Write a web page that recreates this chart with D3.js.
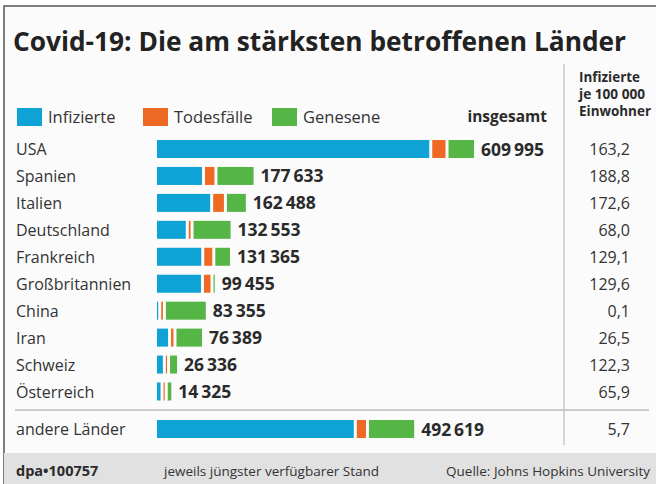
<!DOCTYPE html>
<html>
<head>
<meta charset="utf-8">
<script src="https://cdn.jsdelivr.net/npm/d3@7"></script>
<style>
  body { margin: 0; background: #fff; }
  text { font-family: "Open Sans", "Noto Sans", sans-serif; fill: #2b2b2b; }
</style>
</head>
<body>
<div id="chart"></div>
<script>
// Covid-19: the most affected countries (stacked bars + per-capita column)
const countries = ["USA", "Spanien", "Italien", "Deutschland", "Frankreich",
    "Großbritannien", "China", "Iran", "Schweiz", "Österreich"];
const infected  = [534000, 88201, 104291, 56458, 86812, 86193, 1809, 21679, 11500, 6954];
const deaths    = [26000, 18579, 21067, 3495, 15748, 12894, 3346, 4777, 1100, 384];
const recovered = [49995, 70853, 37130, 72600, 28805, 368, 78200, 49933, 13736, 6987];
const totals    = [609995, 177633, 162488, 132553, 131365, 99455, 83355, 76389, 26336, 14325];
const per100k   = [163.2, 188.8, 172.6, 68.0, 129.1, 129.6, 0.1, 26.5, 122.3, 65.9];

const otherLabel = "andere Länder";
const otherInfected = 386019, otherDeaths = 18000, otherRecovered = 88600;
const otherTotal = 492619, otherPer100k = 5.7;

const seriesNames = ["Infizierte", "Todesfälle", "Genesene"];
const seriesColors = ["#0ea2d5", "#ee6a24", "#55b545"];

(function () {
    const width = 656, height = 484;

    const svg = d3.select('#chart')
        .append('svg')
        .attr('width', width)
        .attr('height', height);

    // frame
    svg.append('rect')
        .attr('x', 4).attr('y', 6)
        .attr('width', width - 4).attr('height', height - 6)
        .attr('fill', '#fbfbfb');
    svg.append('path')
        .attr('d', `M4,${height} V6 H${width}`)
        .attr('fill', 'none')
        .attr('stroke', '#555')
        .attr('stroke-width', 1.5);

    // title
    svg.append('text')
        .attr('x', 13).attr('y', 51)
        .attr('font-size', 26)
        .attr('font-weight', 700)
        .attr('textLength', 613)
        .attr('lengthAdjust', 'spacingAndGlyphs')
        .style('fill', '#222')
        .text('Covid-19: Die am stärksten betroffenen Länder');

    // legend
    const legendX = [17, 143, 272];
    const legend = svg.append('g');
    seriesNames.forEach((name, i) => {
        legend.append('rect')
            .attr('x', legendX[i]).attr('y', 108)
            .attr('width', 25).attr('height', 18)
            .attr('fill', seriesColors[i]);
        legend.append('text')
            .attr('x', legendX[i] + 31).attr('y', 123)
            .attr('font-size', 16.5)
            .style('fill', '#333')
            .text(name);
    });
    svg.append('text')
        .attr('x', 547).attr('y', 122)
        .attr('text-anchor', 'end')
        .attr('font-size', 15.5)
        .attr('font-weight', 700)
        .text('insgesamt');

    // right column header (condensed look via textLength)
    const head = ['Infizierte', 'je 100 000', 'Einwohner'];
    const headLen = [61, 66, 72];
    svg.append('g').selectAll('text')
        .data(head)
        .join('text')
        .attr('x', 579)
        .attr('y', (d, i) => 82 + i * 17)
        .attr('font-size', 13.5)
        .attr('font-weight', 700)
        .attr('textLength', (d, i) => headLen[i])
        .attr('lengthAdjust', 'spacingAndGlyphs')
        .text(d => d);

    // dividers
    svg.append('line')
        .attr('x1', 564).attr('x2', 564)
        .attr('y1', 64).attr('y2', 445)
        .attr('stroke', '#bdbdbd').attr('stroke-width', 1.2);
    svg.append('line')
        .attr('x1', 15).attr('x2', 649)
        .attr('y1', 410).attr('y2', 410)
        .attr('stroke', '#bdbdbd').attr('stroke-width', 1.5);

    // scales
    const x0 = 157, gap = 3, barH = 18;
    const x = d3.scaleLinear().domain([0, totals[0]]).range([0, 311]);
    const y = d3.scalePoint().domain(countries).range([149, 391.5]);

    const rows = countries.map((c, i) => ({
        name: c, cy: y(c),
        parts: [infected[i], deaths[i], recovered[i]],
        total: totals[i], rate: per100k[i]
    }));
    rows.push({
        name: otherLabel, cy: 429,
        parts: [otherInfected, otherDeaths, otherRecovered],
        total: otherTotal, rate: otherPer100k
    });

    const fmtTotal = v => d3.format(',')(v).replace(/,/g, '\u2006');
    const fmtRate = v => v.toFixed(1).replace('.', ',');

    const row = svg.append('g').selectAll('g')
        .data(rows)
        .join('g');

    row.append('text')
        .attr('x', 16).attr('y', d => d.cy + 6)
        .attr('font-size', 16)
        .style('fill', '#333')
        .text(d => d.name);

    row.each(function (d) {
        const g = d3.select(this);
        let pos = x0;
        d.parts.forEach((v, i) => {
            const w = Math.max(1.2, x(v));
            g.append('rect')
                .attr('x', pos).attr('y', d.cy - barH / 2)
                .attr('width', w).attr('height', barH)
                .attr('fill', seriesColors[i]);
            pos += w + (i < 2 ? gap : 0);
        });
        d.end = pos;
    });

    row.append('text')
        .attr('x', d => d.end + 7).attr('y', d => d.cy + 6.5)
        .attr('font-size', 17.5)
        .attr('font-weight', 700)
        .style('fill', '#2a2a2a')
        .text(d => fmtTotal(d.total));

    row.append('text')
        .attr('x', 630).attr('y', d => d.cy + 6)
        .attr('text-anchor', 'end')
        .attr('font-size', 16)
        .style('fill', '#333')
        .text(d => fmtRate(d.rate));

    // footer
    svg.append('rect')
        .attr('x', 4).attr('y', 453)
        .attr('width', width - 4).attr('height', height - 453)
        .attr('fill', '#e1e1e1');
    svg.append('text')
        .attr('x', 16).attr('y', 476)
        .attr('font-size', 14.5).attr('font-weight', 700)
        .text('dpa\u2022100757');
    svg.append('text')
        .attr('x', 164).attr('y', 476)
        .attr('font-size', 13.5)
        .style('fill', '#333')
        .text('jeweils jüngster verfügbarer Stand');
    svg.append('text')
        .attr('x', 650).attr('y', 476)
        .attr('text-anchor', 'end')
        .attr('font-size', 13.5)
        .style('fill', '#333')
        .text('Quelle: Johns Hopkins University');
})();
</script>
</body>
</html>
